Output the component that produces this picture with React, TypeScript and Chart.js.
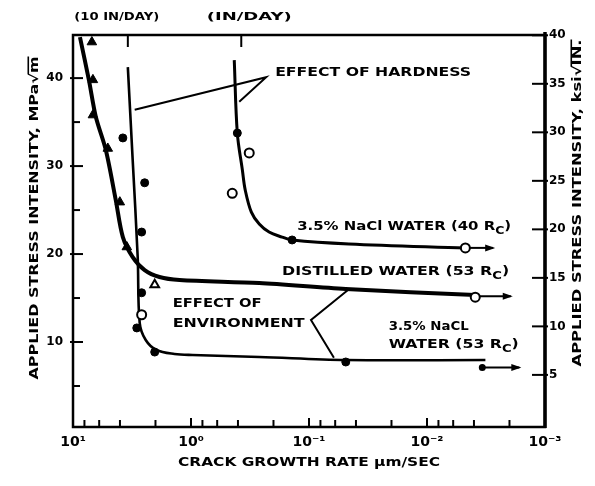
import React, { useEffect, useRef } from 'react';
import { Chart, registerables } from 'chart.js';

Chart.register(...registerables);

const FONT_FAMILY = '"DejaVu Sans", "Liberation Sans", sans-serif';

// ---------- axis ticks ----------
const xTickValues = [10, 1, 0.1, 0.01, 0.001];
const xTickLabels = ['10¹', '10⁰', '10⁻¹', '10⁻²', '10⁻³'];
const xMinorMultiples = [2, 4, 6, 8];
const yLeftTickValues = [10, 20, 30, 40];
const yLeftMinorTicks = [5, 15, 25, 35];
const yRightTickValues = [5, 10, 15, 20, 25, 30, 35, 40];
const topTickValues = [3.43, 0.375];
const topLabelValues = [4.26, 0.321];
const topLabels = ['(10 IN/DAY)', '(IN/DAY)'];

// ---------- curves (x: crack growth rate µm/s, y: MPa√m) ----------
const distilled53X = [8.73, 7.33, 6.4, 5.27, 4.34, 3.78, 3.12, 2.47, 1.85, 1.25, 0.264, 0.0488, 0.0039];
const distilled53Y = [44.66, 39.77, 35.57, 31.82, 26.14, 21.93, 19.66, 18.18, 17.39, 17.05, 16.7, 16.02, 15.34];

const nacl53X = [3.43, 3.12, 2.83, 2.72, 2.42, 1.96, 1.38, 0.971, 0.264, 0.0488, 0.0032];
const nacl53Y = [41.25, 30.68, 19.66, 12.16, 10.23, 9.09, 8.64, 8.52, 8.3, 7.95, 7.95];

const nacl40X = [0.43, 0.405, 0.367, 0.347, 0.308, 0.264, 0.218, 0.169, 0.139, 0.0459, 0.00473];
const nacl40Y = [42.05, 33.75, 29.55, 27.27, 24.77, 23.41, 22.5, 21.93, 21.59, 21.14, 20.68];

// ---------- markers ----------
const triFilledX = [6.92, 6.78, 6.78, 5.07, 4.01, 3.5];
const triFilledY = [44.1, 39.8, 35.8, 32.0, 25.9, 20.8];
const triOpenX = [2.03];
const triOpenY = [16.5];
const dotX = [3.78, 2.47, 2.62, 2.62, 2.88, 2.03, 0.0488, 0.405, 0.139];
const dotY = [33.2, 28.1, 22.5, 15.6, 11.6, 8.86, 7.73, 33.75, 21.6];
const ringX = [2.62, 0.321, 0.447, 0.00473, 0.0039];
const ringY = [13.1, 31.5, 26.9, 20.7, 15.1];

// ---------- arrows & pointer lines ----------
const distilledArrowX = [0.0039, 0.00195];
const distilledArrowY = [15.2, 15.2];
const nacl40ArrowX = [0.00473, 0.00275];
const nacl40ArrowY = [20.7, 20.7];
const nacl53ArrowX = [0.0034, 0.00165];
const nacl53ArrowY = [7.1, 7.1];
const hardnessPointerX = [3.0, 0.2307, 0.39];
const hardnessPointerY = [36.4, 40.1, 37.3];
const envPointerX = [0.0459, 0.0962, 0.0615];
const envPointerY = [16.0, 12.5, 8.2];

const pts = (xs: number[], ys: number[]) => xs.map((v, i) => ({ x: v, y: ys[i] }));

type Seg = { t: string; sub?: boolean; over?: boolean };

function drawSegs(
  ctx: CanvasRenderingContext2D,
  segs: Seg[],
  x: number,
  y: number,
  size: number,
  target: number,
  rot = 0,
  center = false
) {
  ctx.save();
  const fMain = `bold ${size}px ${FONT_FAMILY}`;
  const fSub = `bold ${Math.round(size * 0.8)}px ${FONT_FAMILY}`;
  const widths = segs.map((s) => {
    ctx.font = s.sub ? fSub : fMain;
    return ctx.measureText(s.t).width;
  });
  const natural = widths.reduce((a, b) => a + b, 0);
  const sx = target / natural;
  ctx.translate(x, y);
  ctx.rotate(rot);
  ctx.scale(sx, 1);
  ctx.textBaseline = 'middle';
  ctx.textAlign = 'left';
  ctx.fillStyle = '#000';
  ctx.strokeStyle = '#000';
  let cx = center ? -natural / 2 : 0;
  segs.forEach((s, i) => {
    ctx.font = s.sub ? fSub : fMain;
    ctx.fillText(s.t, cx, s.sub ? size * 0.4 : 0);
    if (s.over) {
      ctx.lineWidth = 1.6;
      ctx.beginPath();
      ctx.moveTo(cx - 1, -size * 0.56);
      ctx.lineTo(cx + widths[i], -size * 0.56);
      ctx.stroke();
    }
    cx += widths[i];
  });
  ctx.restore();
}

function seg(ctx: CanvasRenderingContext2D, x1: number, y1: number, x2: number, y2: number) {
  ctx.beginPath();
  ctx.moveTo(x1, y1);
  ctx.lineTo(x2, y2);
  ctx.stroke();
}

const decorPlugin = {
  id: 'decor',
  afterDraw(chart: any) {
    const ctx: CanvasRenderingContext2D = chart.ctx;
    const ca = chart.chartArea;
    const xs = chart.scales.x;
    const ys = chart.scales.y;
    const y2s = chart.scales.y2;
    const px = (v: number) => xs.getPixelForValue(v);
    const py = (v: number) => ys.getPixelForValue(v);
    ctx.save();
    ctx.strokeStyle = '#000';
    ctx.fillStyle = '#000';

    // frame
    ctx.lineWidth = 2.5;
    ctx.beginPath();
    ctx.moveTo(ca.left, ca.top);
    ctx.lineTo(ca.right, ca.top);
    ctx.lineTo(ca.right, ca.bottom);
    ctx.lineTo(ca.left, ca.bottom);
    ctx.closePath();
    ctx.stroke();
    ctx.lineWidth = 3.5;
    seg(ctx, ca.right, ca.top - 3, ca.right, ca.bottom + 1);

    // left ticks (inward)
    ctx.lineWidth = 2;
    yLeftTickValues.forEach((v) => {
      const p = py(v);
      seg(ctx, ca.left - 3, p, ca.left + 10, p);
    });
    yLeftMinorTicks.forEach((v) => {
      const p = py(v);
      seg(ctx, ca.left, p, ca.left + 7, p);
    });
    // right ticks
    yRightTickValues.forEach((v) => {
      const p = y2s.getPixelForValue(v);
      seg(ctx, ca.right - 13, p, ca.right + 3, p);
    });
    // bottom ticks
    xTickValues.forEach((d) => {
      const p = px(d);
      seg(ctx, p, ca.bottom, p, ca.bottom - 9);
      xMinorMultiples.forEach((m) => {
        const v = d * m;
        if (v < 10) {
          const q = px(v);
          seg(ctx, q, ca.bottom, q, ca.bottom - 7);
        }
      });
    });
    // top ticks + labels
    topTickValues.forEach((v) => {
      const p = px(v);
      seg(ctx, p, ca.top, p, ca.top + 12);
    });
    topLabels.forEach((t, i) => {
      drawSegs(ctx, [{ t }], px(topLabelValues[i]), ca.top - 18, 11, 85, 0, true);
    });

    // axis titles
    drawSegs(
      ctx,
      [{ t: 'APPLIED STRESS INTENSITY, MPa√' }, { t: 'm', over: true }],
      ca.left - 38,
      (ca.top + ca.bottom) / 2 - 13,
      12,
      323,
      -Math.PI / 2,
      true
    );
    drawSegs(
      ctx,
      [{ t: 'APPLIED STRESS INTENSITY, ksi√' }, { t: 'IN.', over: true }],
      ca.right + 33,
      (ca.top + ca.bottom) / 2 - 28,
      12,
      327,
      -Math.PI / 2,
      true
    );
    drawSegs(ctx, [{ t: 'CRACK GROWTH RATE µm/SEC' }], (ca.left + ca.right) / 2, ca.bottom + 36, 12, 262, 0, true);

    // annotations
    const notes: { segs: Seg[]; x: number; y: number; w: number }[] = [
      { segs: [{ t: 'EFFECT OF HARDNESS' }], x: 0.1936, y: 40.6, w: 196 },
      { segs: [{ t: '3.5% NaCl WATER (40 R' }, { t: 'C', sub: true }, { t: ')' }], x: 0.126, y: 23.1, w: 214 },
      { segs: [{ t: 'DISTILLED WATER (53 R' }, { t: 'C', sub: true }, { t: ')' }], x: 0.169, y: 18.0, w: 227 },
      { segs: [{ t: 'EFFECT OF' }], x: 1.43, y: 14.3, w: 89 },
      { segs: [{ t: 'ENVIRONMENT' }], x: 1.43, y: 12.05, w: 132 },
      { segs: [{ t: '3.5% NaCL' }], x: 0.0211, y: 11.7, w: 80 },
      { segs: [{ t: 'WATER (53 R' }, { t: 'C', sub: true }, { t: ')' }], x: 0.0211, y: 9.66, w: 130 },
    ];
    notes.forEach((n) => drawSegs(ctx, n.segs, px(n.x), py(n.y), 12, n.w));

    // arrowheads
    chart.data.datasets.forEach((ds: any, i: number) => {
      if (!ds.arrow) return;
      const meta = chart.getDatasetMeta(i);
      const a = meta.data[meta.data.length - 2];
      const b = meta.data[meta.data.length - 1];
      const ang = Math.atan2(b.y - a.y, b.x - a.x);
      const L = 8;
      const W = 3.5;
      ctx.beginPath();
      ctx.moveTo(b.x + 2 * Math.cos(ang), b.y + 2 * Math.sin(ang));
      ctx.lineTo(b.x - L * Math.cos(ang) - W * Math.sin(ang), b.y - L * Math.sin(ang) + W * Math.cos(ang));
      ctx.lineTo(b.x - L * Math.cos(ang) + W * Math.sin(ang), b.y - L * Math.sin(ang) - W * Math.cos(ang));
      ctx.closePath();
      ctx.fill();
    });

    ctx.restore();
  },
};

const lineDs = (data: any[], width: number, tension: number, extra: any = {}) => ({
  data,
  showLine: true,
  borderColor: '#000',
  backgroundColor: '#000',
  borderWidth: width,
  pointRadius: 0,
  tension,
  ...extra,
});

export default function App() {
  const ref = useRef<HTMLCanvasElement>(null);
  useEffect(() => {
    const canvas = ref.current;
    if (!canvas) return;
    const tickFont = { family: FONT_FAMILY, size: 12, weight: 'bold' as const };
    const chart = new Chart(canvas, {
      type: 'scatter',
      data: {
        datasets: [
          {
            data: pts(triFilledX, triFilledY),
            pointStyle: 'triangle',
            pointRadius: 5.5,
            backgroundColor: '#000',
            borderColor: '#000',
            borderWidth: 1,
          },
          {
            data: pts(triOpenX, triOpenY),
            pointStyle: 'triangle',
            pointRadius: 5,
            backgroundColor: '#fff',
            borderColor: '#000',
            borderWidth: 2,
          },
          {
            data: pts(dotX, dotY),
            pointStyle: 'circle',
            pointRadius: 4,
            backgroundColor: '#000',
            borderColor: '#000',
            borderWidth: 1,
          },
          {
            data: pts(ringX, ringY),
            pointStyle: 'circle',
            pointRadius: 4.5,
            backgroundColor: '#fff',
            borderColor: '#000',
            borderWidth: 2,
          },
          lineDs(pts(distilled53X, distilled53Y), 4, 0.3),
          lineDs(pts(nacl53X, nacl53Y), 2.6, 0.35),
          lineDs(pts(nacl40X, nacl40Y), 3, 0.35),
          lineDs(pts(distilledArrowX, distilledArrowY), 2, 0, { arrow: true }),
          lineDs(pts(nacl40ArrowX, nacl40ArrowY), 2, 0, { arrow: true }),
          lineDs(pts(nacl53ArrowX, nacl53ArrowY), 2, 0, { arrow: true, pointRadius: [2.5, 0] }),
          lineDs(pts(hardnessPointerX, hardnessPointerY), 2, 0),
          lineDs(pts(envPointerX, envPointerY), 2, 0),
        ] as any,
      },
      options: {
        responsive: false,
        animation: false,
        devicePixelRatio: 1,
        layout: { padding: { top: 35, left: 0, right: 0, bottom: 0 } },
        plugins: { legend: { display: false }, tooltip: { enabled: false }, title: { display: false } },
        events: [],
        scales: {
          x: {
            type: 'logarithmic',
            reverse: true,
            min: 0.001,
            max: 10,
            position: 'bottom',
            grid: { display: false, drawTicks: false },
            border: { display: false },
            afterBuildTicks: (s: any) => {
              s.ticks = xTickValues.map((v) => ({ value: v }));
            },
            afterFit: (s: any) => {
              s.height = 59;
            },
            ticks: {
              autoSkip: false,
              maxRotation: 0,
              minRotation: 0,
              padding: 7,
              color: '#000',
              font: { family: FONT_FAMILY, size: 14, weight: 'bold' },
              callback: (v: any) => {
                const i = xTickValues.indexOf(Number(v));
                return i >= 0 ? xTickLabels[i] : '';
              },
            },
          },
          y: {
            type: 'linear',
            position: 'left',
            min: 0.34,
            max: 44.9,
            grid: { display: false, drawTicks: false },
            border: { display: false },
            afterBuildTicks: (s: any) => {
              s.ticks = yLeftTickValues.map((v) => ({ value: v }));
            },
            afterFit: (s: any) => {
              s.width = 73;
            },
            ticks: { padding: 10, color: '#000', font: tickFont },
          },
          y2: {
            type: 'linear',
            position: 'right',
            display: true,
            min: -0.37,
            max: 40.03,
            grid: { display: false, drawTicks: false },
            border: { display: false },
            afterBuildTicks: (s: any) => {
              s.ticks = yRightTickValues.map((v) => ({ value: v }));
            },
            afterFit: (s: any) => {
              s.width = 50;
            },
            ticks: { padding: 4, color: '#000', font: tickFont },
          },
        },
      } as any,
      plugins: [decorPlugin],
    });
    return () => chart.destroy();
  }, []);
  return (
    <div style={{ position: 'absolute', left: 0, top: 0, width: 595, height: 486, background: '#fff' }}>
      <canvas ref={ref} width={595} height={486} style={{ display: 'block', width: 595, height: 486 }} />
    </div>
  );
}
